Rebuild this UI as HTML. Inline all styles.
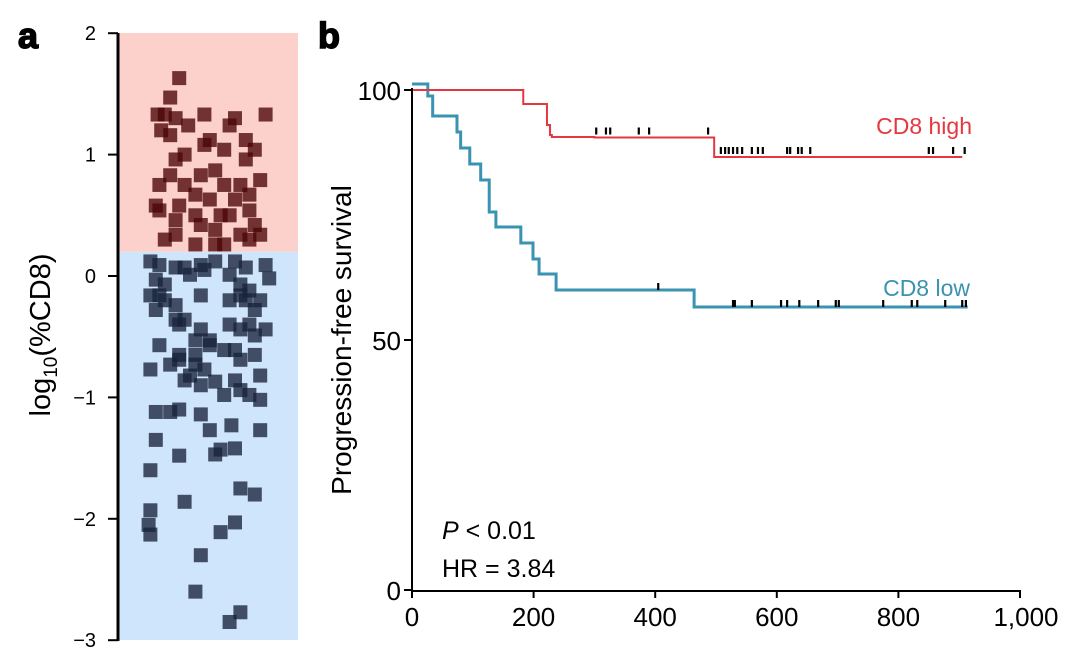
<!DOCTYPE html>
<html><head><meta charset="utf-8"><style>
body{margin:0;background:#fff;width:1080px;height:663px;overflow:hidden}
svg{font-family:"Liberation Sans",Arial,sans-serif}
</style></head><body>
<svg id="c" width="1080" height="663"></svg>
<script>
// Panel a data
const highX=[.34,.29,.26,.32,.22,.24,.29,.39,.48,.65,.62,.82,.51,.37,.48,.59,.71,.76,.32,.29,.54,.46,.71,.68,.79,.37,.43,.59,.51,.23,.23,.21,.32,.34,.65,.73,.62,.54,.43,.46,.57,.73,.76,.68,.79,.32,.26,.43,.59,.54,.73];
const highY=[1.63,1.47,1.33,1.30,1.33,1.20,1.16,1.24,1.33,1.30,1.24,1.33,1.12,1.00,1.08,1.04,1.12,1.04,0.96,0.83,0.87,0.83,0.96,0.75,0.79,0.75,0.67,0.75,0.63,0.75,0.54,0.58,0.46,0.58,0.63,0.67,0.50,0.38,0.50,0.42,0.50,0.54,0.42,0.34,0.34,0.34,0.30,0.26,0.26,0.26,0.30];
const lowX=[.18,.23,.32,.37,.46,.54,.65,.71,.82,.21,.26,.40,.48,.62,.68,.73,.84,.18,.23,.26,.21,.32,.46,.62,.68,.71,.79,.76,.32,.34,.37,.46,.43,.51,.62,.68,.73,.76,.82,.23,.34,.43,.51,.59,.65,.68,.76,.29,.34,.43,.48,.40,.18,.37,.46,.54,.65,.68,.79,.59,.73,.79,.21,.29,.46,.34,.51,.63,.79,.57,.54,.18,.65,.21,.34,.68,.76,.37,.18,.17,.18,.65,.57,.46,.43,.68,.62];
const lowY=[0.12,0.09,0.07,0.07,0.09,0.12,0.12,0.07,0.09,-0.03,-0.07,0.01,0.05,0.01,-0.07,-0.12,-0.02,-0.16,-0.16,-0.20,-0.28,-0.24,-0.16,-0.20,-0.16,-0.20,-0.20,-0.28,-0.36,-0.40,-0.36,-0.44,-0.53,-0.53,-0.40,-0.44,-0.40,-0.49,-0.44,-0.57,-0.65,-0.65,-0.57,-0.61,-0.61,-0.69,-0.65,-0.73,-0.69,-0.73,-0.77,-0.82,-0.77,-0.86,-0.90,-0.87,-0.86,-0.94,-0.82,-0.98,-0.98,-1.02,-1.12,-1.12,-1.14,-1.10,-1.27,-1.23,-1.27,-1.43,-1.47,-1.60,-1.42,-1.35,-1.48,-1.75,-1.80,-1.86,-1.93,-2.05,-2.13,-2.03,-2.11,-2.30,-2.60,-2.77,-2.85];
const threshold=0.2;
const aTicks=[2,1,0,-1,-2,-3];
// Panel b data
const highT=[0,183,222,227,230,300,497,905];
const highS=[100,97.2,93,91,90.6,90.5,86.6,86.6];
const lowT=[0,26,34,74,80,95,113,127,138,179,199,209,237,464,914];
const lowS=[101.2,98.8,94.8,91.6,88.4,85.2,82,75.6,72.6,69.4,66.2,63.2,60,56.6,56.6];
const highCens=[303,319,326,373,390,487,508,515,521,528,535,543,559,569,577,617,622,635,641,655,850,857,890,909];
const lowCens=[405,528,531,559,607,617,637,668,697,702,775,822,831,877,905,911];
const bXTicks=[0,200,400,600,800,1000];
const bXLabels=["0","200","400","600","800","1,000"];
const bYTicks=[0,50,100];

const NS="http://www.w3.org/2000/svg";
const svg=document.getElementById('c');
function mk(tag,at,txt){const e=document.createElementNS(NS,tag);for(const k in at)e.setAttribute(k,at[k]);if(txt!==undefined)e.textContent=txt;svg.appendChild(e);return e;}

// Panel a
const ay=v=>276-v*121.4, ax=f=>118+f*180;
let e;
e=mk('rect',{x:118,y:33,width:180,height:ay(threshold)-33,fill:'#fdd1cb'});


e=mk('rect',{x:118,y:ay(threshold),width:180,height:640-ay(threshold),fill:'#cfe5fb'});


highX.forEach((x,i)=>{
  const r=mk('rect',{x:ax(x)-7,y:ay(highY[i])-7,width:14,height:14,fill:'#4a0505','fill-opacity':0.78});
  
  
});
lowX.forEach((x,i)=>{
  const r=mk('rect',{x:ax(x)-7,y:ay(lowY[i])-7,width:14,height:14,fill:'#17223a','fill-opacity':0.78});
  
  
});
e=mk('line',{x1:118,y1:33,x2:118,y2:641,stroke:'#000','stroke-width':3});


aTicks.forEach(v=>{
  const t=mk('line',{x1:108,y1:ay(v),x2:118,y2:ay(v),stroke:'#000','stroke-width':2});
  
  
  const l=mk('text',{x:96,y:ay(v)+7,'text-anchor':'end','font-size':20},v<0?'\u2212'+(-v):String(v));
  
  
});
e=mk('text',{transform:'translate(50,335) rotate(-90)','text-anchor':'middle','font-size':29});
e.innerHTML='log<tspan font-size="19" dy="7">10</tspan><tspan dy="-7">(%CD8)</tspan>';


e=mk('text',{x:18,y:48,'font-size':36,'font-weight':'bold',stroke:'#000','stroke-width':1.5},'a');


e=mk('text',{x:318,y:48,'font-size':36,'font-weight':'bold',stroke:'#000','stroke-width':1.5},'b');



// Panel b
const bx=t=>412+t*0.608, by=s=>590-s*5;
function step(T,S){let d='M'+bx(T[0])+','+by(S[0]);for(let i=1;i<T.length;i++){d+=' H'+bx(T[i])+' V'+by(S[i]);}return d;}
e=mk('path',{d:step(lowT,lowS),fill:'none',stroke:'#3a93b1','stroke-width':3});


e=mk('path',{d:step(highT,highS),fill:'none',stroke:'#e5373f','stroke-width':2});


function survAt(T,S,t){let s=S[0];for(let i=0;i<T.length;i++)if(T[i]<=t)s=S[i];return s;}
highCens.forEach(t=>{
  const y=by(survAt(highT,highS,t));
  const c=mk('line',{x1:bx(t),y1:y-10,x2:bx(t),y2:y-3,stroke:'#000','stroke-width':2.2});
  
  
});
lowCens.forEach(t=>{
  const y=by(survAt(lowT,lowS,t));
  const c=mk('line',{x1:bx(t),y1:y-7,x2:bx(t),y2:y,stroke:'#000','stroke-width':2.2});
  
  
});
e=mk('path',{d:'M412,88 V591 H1021',fill:'none',stroke:'#000','stroke-width':2});


bXTicks.forEach((v,i)=>{
  const t=mk('line',{x1:bx(v),y1:590,x2:bx(v),y2:598,stroke:'#000','stroke-width':2});
  
  
  const l=mk('text',{x:bx(v)+(i==bXTicks.length-1?6:0),y:626,'text-anchor':'middle','font-size':26},bXLabels[i]);
  
  
});
bYTicks.forEach(v=>{
  const t=mk('line',{x1:404,y1:by(v),x2:412,y2:by(v),stroke:'#000','stroke-width':2});
  
  
  const l=mk('text',{x:401,y:by(v)+10,'text-anchor':'end','font-size':26},String(v));
  
  
});
e=mk('text',{transform:'translate(351,340) rotate(-90)','text-anchor':'middle','font-size':28},'Progression-free survival');


e=mk('text',{x:972,y:134,'text-anchor':'end','font-size':23,fill:'#e5373f'},'CD8 high');


e=mk('text',{x:970,y:296,'text-anchor':'end','font-size':23,fill:'#3a93b1'},'CD8 low');


e=mk('text',{x:442,y:539,'font-size':25});
e.innerHTML='<tspan font-style="italic">P</tspan> &lt; 0.01';


e=mk('text',{x:442,y:577,'font-size':25},'HR = 3.84');


</script>
</body></html>
